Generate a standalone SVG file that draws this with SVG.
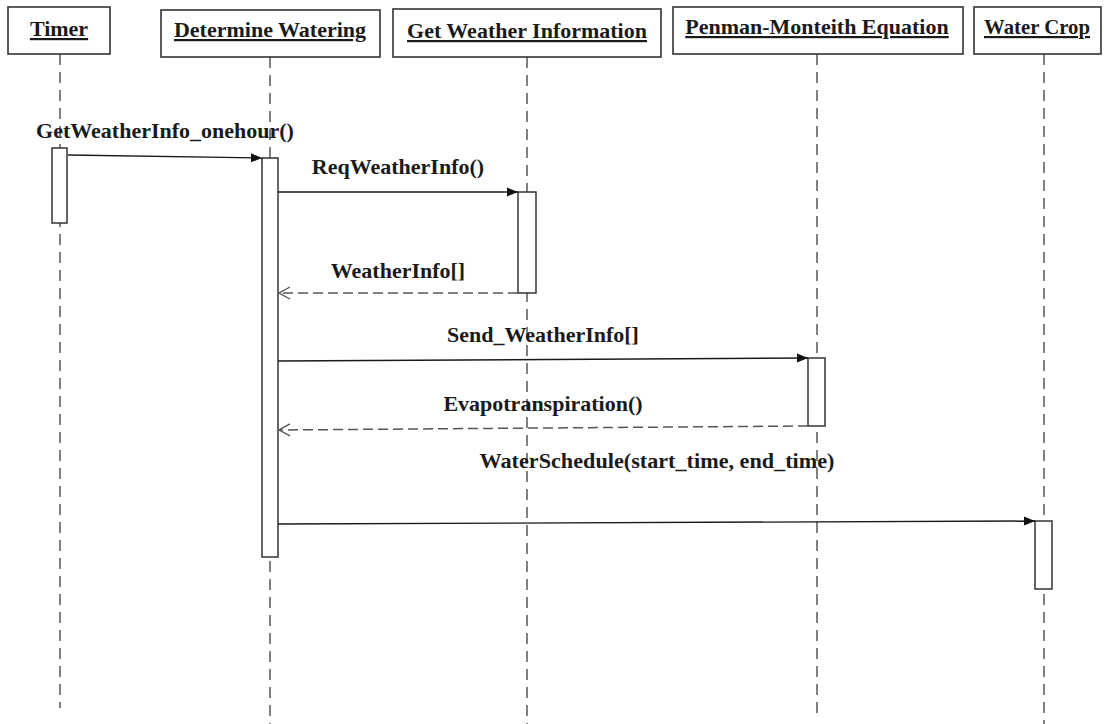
<svg xmlns="http://www.w3.org/2000/svg" width="1104" height="724" viewBox="0 0 1104 724">
  <style>
    .head { fill: #fff; stroke: #333; stroke-width: 1.6; }
    .htxt { font-family: "Liberation Serif", "Times New Roman", serif; font-weight: bold; font-size: 22px; fill: #1a1a1a; text-anchor: middle; text-decoration: underline; }
    .life { stroke: #555; stroke-width: 1.5; stroke-dasharray: 11 7; fill: none; }
    .act { fill: #fff; stroke: #333; stroke-width: 1.5; }
    .msg { stroke: #1a1a1a; stroke-width: 1.4; fill: none; }
    .ret { stroke: #555; stroke-width: 1.5; stroke-dasharray: 10 5; fill: none; }
    .mtxt { font-family: "Liberation Serif", "Times New Roman", serif; font-weight: bold; font-size: 22px; fill: #1a1a1a; text-anchor: middle; }
  </style>
  <defs>
    <marker id="solidHead" markerWidth="12" markerHeight="10" refX="11" refY="5" orient="auto" markerUnits="userSpaceOnUse">
      <path d="M0,0.5 L11,5 L0,9.5 Z" fill="#111"/>
    </marker>
    <marker id="openHead" markerWidth="14" markerHeight="14" refX="12" refY="7" orient="auto" markerUnits="userSpaceOnUse">
      <path d="M1,1 L12,7 L1,13" fill="none" stroke="#555" stroke-width="1.4"/>
    </marker>
  </defs>
  <rect width="1104" height="724" fill="#fff"/>

  <!-- lifelines -->
  <g id="lifelines">
    <line class="life" x1="60" y1="54" x2="60" y2="708"/>
    <line class="life" x1="270" y1="57" x2="270" y2="724"/>
    <line class="life" x1="527" y1="57" x2="527" y2="724"/>
    <line class="life" x1="817" y1="54" x2="817" y2="718"/>
    <line class="life" x1="1044" y1="54" x2="1044" y2="724"/>
  </g>

  <!-- participants -->
  <g id="timer">
    <rect class="head" x="8" y="7" width="102" height="47"/>
    <text class="htxt" x="59" y="36">Timer</text>
    <rect class="act" x="52" y="148" width="15" height="75"/>
  </g>
  <g id="determine-watering">
    <rect class="head" x="161" y="10" width="219" height="47"/>
    <text class="htxt" x="270" y="37">Determine Watering</text>
    <rect class="act" x="262" y="158" width="16" height="399"/>
  </g>
  <g id="get-weather-information">
    <rect class="head" x="393" y="9" width="268" height="48"/>
    <text class="htxt" x="527" y="38">Get Weather Information</text>
    <rect class="act" x="518" y="192" width="18" height="101"/>
  </g>
  <g id="penman-monteith">
    <rect class="head" x="673" y="7" width="290" height="47"/>
    <text class="htxt" x="817" y="34">Penman-Monteith Equation</text>
    <rect class="act" x="808" y="358" width="17" height="68"/>
  </g>
  <g id="water-crop">
    <rect class="head" x="974" y="7" width="127" height="47"/>
    <text class="htxt" x="1037" y="34" textLength="106" lengthAdjust="spacingAndGlyphs">Water Crop</text>
    <rect class="act" x="1035" y="521" width="17" height="68"/>
  </g>

  <!-- messages -->
  <g id="connectors">
    <line class="msg" x1="68" y1="155" x2="262" y2="158" marker-end="url(#solidHead)"/>
    <text class="mtxt" x="165" y="138">GetWeatherInfo_onehour()</text>

    <line class="msg" x1="278" y1="192" x2="518" y2="192" marker-end="url(#solidHead)"/>
    <text class="mtxt" x="398" y="174">ReqWeatherInfo()</text>

    <line class="ret" x1="518" y1="293" x2="279" y2="293" marker-end="url(#openHead)"/>
    <text class="mtxt" x="398" y="278">WeatherInfo[]</text>

    <line class="msg" x1="278" y1="361" x2="808" y2="358" marker-end="url(#solidHead)"/>
    <text class="mtxt" x="543" y="342">Send_WeatherInfo[]</text>

    <line class="ret" x1="808" y1="426" x2="279" y2="430" marker-end="url(#openHead)"/>
    <text class="mtxt" x="543" y="411">Evapotranspiration()</text>

    <line class="msg" x1="278" y1="524" x2="1035" y2="521" marker-end="url(#solidHead)"/>
    <text class="mtxt" x="657" y="468" textLength="355" lengthAdjust="spacingAndGlyphs">WaterSchedule(start_time, end_time)</text>
  </g>
</svg>
